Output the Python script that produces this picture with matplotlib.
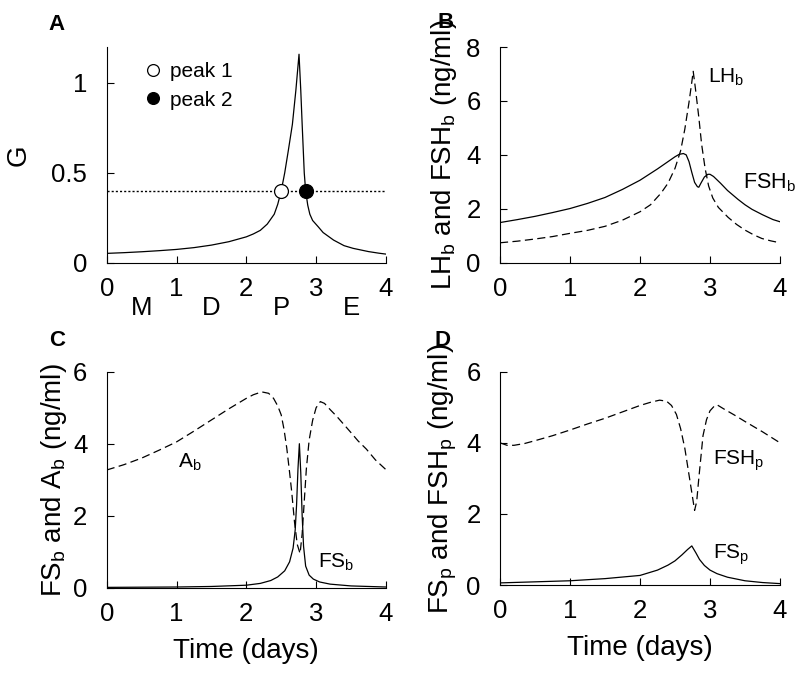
import matplotlib
matplotlib.use("Agg")
import matplotlib.pyplot as plt

# ---- datos ----
t_g = [0, 0.25, 0.5, 0.75, 1, 1.25, 1.5, 1.75, 2, 2.1, 2.2, 2.3, 2.4, 2.45, 2.5, 2.55, 2.6,
       2.66, 2.71, 2.755, 2.78, 2.80, 2.83, 2.85, 2.88, 2.91, 2.95, 3.03, 3.1, 3.25, 3.4,
       3.53, 3.75, 3.9, 4]
g = [0.052, 0.056, 0.061, 0.067, 0.074, 0.084, 0.098, 0.117, 0.144, 0.16, 0.18, 0.215, 0.27,
     0.325, 0.40, 0.50, 0.62, 0.77, 0.96, 1.16, 0.96, 0.77, 0.50, 0.40, 0.32, 0.27, 0.235,
     0.20, 0.168, 0.126, 0.095, 0.08, 0.062, 0.053, 0.048]
g_umbral = 0.4
peaks_t = [2.5, 2.85]

t_fshb = [0, 0.25, 0.5, 0.75, 1, 1.25, 1.5, 1.75, 2, 2.25, 2.4, 2.5, 2.56, 2.62, 2.66, 2.7,
          2.74, 2.78, 2.82, 2.84, 2.87, 2.92, 2.97, 3.0, 3.05, 3.15, 3.25, 3.4, 3.5, 3.6,
          3.75, 3.9, 4]
fsh_b = [1.49, 1.6, 1.72, 1.86, 2.01, 2.2, 2.42, 2.72, 3.06, 3.48, 3.75, 3.93, 4.02, 4.05,
         4.0, 3.75, 3.35, 2.98, 2.82, 2.8, 2.95, 3.18, 3.28, 3.28, 3.2, 2.95, 2.68, 2.35,
         2.15, 1.98, 1.78, 1.6, 1.52]

t_lhb = [0, 0.25, 0.5, 0.75, 1, 1.25, 1.5, 1.75, 2, 2.15, 2.3, 2.4, 2.5, 2.58, 2.64, 2.7,
         2.74, 2.76, 2.79, 2.84, 2.88, 2.93, 2.98, 3.04, 3.12, 3.26, 3.38, 3.5, 3.62, 3.74,
         3.87, 4]
lh_b = [0.74, 0.8, 0.88, 0.97, 1.09, 1.2, 1.35, 1.58, 1.89, 2.15, 2.58, 2.95, 3.5, 4.15,
        4.95, 5.95, 6.7, 7.1, 6.5, 5.4, 4.4, 3.5, 2.85, 2.4, 2.05, 1.68, 1.42, 1.21, 1.04,
        0.9, 0.81, 0.74]

t_ab = [0, 0.25, 0.5, 0.75, 1, 1.25, 1.5, 1.75, 2, 2.1, 2.22, 2.32, 2.39, 2.45, 2.5, 2.54,
        2.58, 2.62, 2.65, 2.69, 2.73, 2.77, 2.8, 2.83, 2.86, 2.9, 2.95, 3.0, 3.06, 3.12,
        3.2, 3.3, 3.49, 3.6, 3.72, 3.85, 4]
a_b = [3.27, 3.42, 3.6, 3.82, 4.05, 4.35, 4.66, 4.97, 5.26, 5.36, 5.44, 5.4, 5.26, 5.05,
       4.8, 4.4, 3.87, 3.2, 2.67, 1.83, 1.2, 0.95, 1.5, 2.4, 3.3, 4.1, 4.65, 5.0, 5.17,
       5.12, 4.95, 4.75, 4.33, 4.08, 3.85, 3.55, 3.28]

t_fsb = [0, 1, 1.5, 2, 2.2, 2.35, 2.45, 2.55, 2.62, 2.67, 2.7, 2.72, 2.74, 2.76, 2.78, 2.8,
         2.82, 2.85, 2.9, 2.96, 3.05, 3.2, 3.5, 4]
fs_b = [0.01, 0.02, 0.035, 0.07, 0.12, 0.2, 0.3, 0.47, 0.72, 1.1, 1.6, 2.3, 3.3, 4.0, 3.2,
        2.0, 1.15, 0.6, 0.35, 0.24, 0.16, 0.1, 0.05, 0.02]

t_fshp = [0, 0.1, 0.2, 0.35, 0.5, 0.75, 1, 1.25, 1.5, 1.75, 2, 2.15, 2.28, 2.38, 2.45, 2.52,
          2.58, 2.64, 2.7, 2.74, 2.78, 2.81, 2.84, 2.87, 2.9, 2.95, 3.0, 3.06, 3.1, 3.2,
          3.35, 3.5, 3.75, 4]
fsh_p = [4.0, 3.93, 3.93, 3.98, 4.06, 4.2, 4.36, 4.53, 4.69, 4.87, 5.05, 5.14, 5.2, 5.17,
         5.05, 4.8, 4.4, 3.85, 3.1, 2.6, 2.1, 2.35, 3.0, 3.6, 4.2, 4.65, 4.9, 5.03, 5.07,
         4.95, 4.78, 4.6, 4.31, 4.0]

t_fsp = [0, 0.5, 1, 1.5, 2, 2.25, 2.4, 2.5, 2.6, 2.68, 2.74, 2.8, 2.85, 2.92, 3, 3.1, 3.25,
         3.5, 3.75, 4]
fs_p = [0.06, 0.09, 0.12, 0.18, 0.27, 0.42, 0.56, 0.68, 0.85, 1.0, 1.1, 0.9, 0.72, 0.55,
        0.42, 0.32, 0.22, 0.12, 0.07, 0.04]

fases = ["M", "D", "P", "E"]
fases_t = [0.5, 1.5, 2.5, 3.5]

# ---- estilo ----
plt.rcParams.update({
    "font.family": "Liberation Sans",
    "mathtext.fontset": "custom",
    "mathtext.rm": "Liberation Sans",
    "mathtext.it": "Liberation Sans:italic",
    "font.size": 18.5,
    "axes.linewidth": 0.8,
})

DASH = (0, (6.5, 3.5))
LW = 0.9

fig = plt.figure(figsize=(8, 6.74), dpi=100)
axA = fig.add_axes([0.1334, 0.6102, 0.349, 0.320])
axB = fig.add_axes([0.625, 0.6102, 0.350, 0.320])
axC = fig.add_axes([0.1334, 0.128, 0.349, 0.3205])
axD = fig.add_axes([0.625, 0.132, 0.350, 0.3165])


def estilo(ax, yticks, ylabel, ylabel_x, ytop=None):
    for s in ("top", "right"):
        ax.spines[s].set_visible(False)
    ax.set_xlim(0, 4)
    ax.set_xticks([0, 1, 2, 3, 4])
    ax.set_yticks(yticks)
    ax.set_ylim(yticks[0], ytop if ytop else yticks[-1])
    ax.tick_params(axis="both", direction="in", length=5, width=0.8, labelsize=18.5)
    ax.tick_params(axis="x", pad=10)
    ax.tick_params(axis="y", pad=14)
    ax.set_ylabel(ylabel, fontsize=20)
    ax.yaxis.set_label_coords(ylabel_x, 0.5)


# ---- A ----
axA.plot(t_g, g, color="black", lw=LW)
axA.axhline(g_umbral, color="black", lw=1.0, ls=(0, (1.5, 1.5)))
axA.plot(peaks_t[0], g_umbral, "o", ms=10, mfc="white", mec="black", mew=0.9,
         label="peak 1", zorder=5)
axA.plot(peaks_t[1], g_umbral, "o", ms=10, mfc="black", mec="black", mew=0.9,
         label="peak 2", zorder=5)
estilo(axA, [0, 0.5, 1], "G", -0.27, ytop=1.2)
axA.set_yticklabels(["0", "0.5", "1"])
axA.legend(loc="upper left", bbox_to_anchor=(0.13, 0.93), frameon=False,
           fontsize=15, handlelength=1.0, handletextpad=0.3, borderpad=0,
           borderaxespad=0, labelspacing=0.45, markerscale=0.85)
for x, f in zip(fases_t, fases):
    axA.text(x, -0.252, f, ha="center", va="center", fontsize=18.5, clip_on=False)

# ---- B ----
axB.plot(t_fshb, fsh_b, color="black", lw=LW)
axB.plot(t_lhb, lh_b, color="black", lw=LW, ls=DASH)
estilo(axB, [0, 2, 4, 6, 8], r"LH$_\mathrm{b}$ and FSH$_\mathrm{b}$ (ng/ml)", -0.145)
axB.text(2.97, 6.88, r"LH$_\mathrm{b}$", fontsize=15, ha="left", va="center")
axB.text(3.47, 2.95, r"FSH$_\mathrm{b}$", fontsize=15.5, ha="left", va="center", clip_on=False)

# ---- C ----
axC.plot(t_fsb, fs_b, color="black", lw=LW)
axC.plot(t_ab, a_b, color="black", lw=LW, ls=DASH)
estilo(axC, [0, 2, 4, 6], r"FS$_\mathrm{b}$ and A$_\mathrm{b}$ (ng/ml)", -0.135)
axC.text(1.02, 3.49, r"A$_\mathrm{b}$", fontsize=15, ha="left", va="center")
axC.text(3.02, 0.71, r"FS$_\mathrm{b}$", fontsize=15, ha="left", va="center")
axC.set_xlabel("Time (days)", fontsize=20, labelpad=9)

# ---- D ----
axD.plot(t_fsp, fs_p, color="black", lw=LW)
axD.plot(t_fshp, fsh_p, color="black", lw=LW, ls=DASH)
estilo(axD, [0, 2, 4, 6], r"FS$_\mathrm{p}$ and FSH$_\mathrm{p}$ (ng/ml)", -0.145)
axD.text(3.04, 3.5, r"FSH$_\mathrm{p}$", fontsize=15, ha="left", va="center")
axD.text(3.04, 0.84, r"FS$_\mathrm{p}$", fontsize=15, ha="left", va="center")
axD.set_xlabel("Time (days)", fontsize=20, labelpad=9)

# ---- letras de panel ----
for (x, y), s in zip([(57, 25), (446, 22), (57, 340), (443, 340)], "ABCD"):
    fig.text(x / 800, 1 - y / 674, s, fontsize=16, fontweight="bold",
             ha="center", va="center")

fig.savefig("out.png", dpi=100)
